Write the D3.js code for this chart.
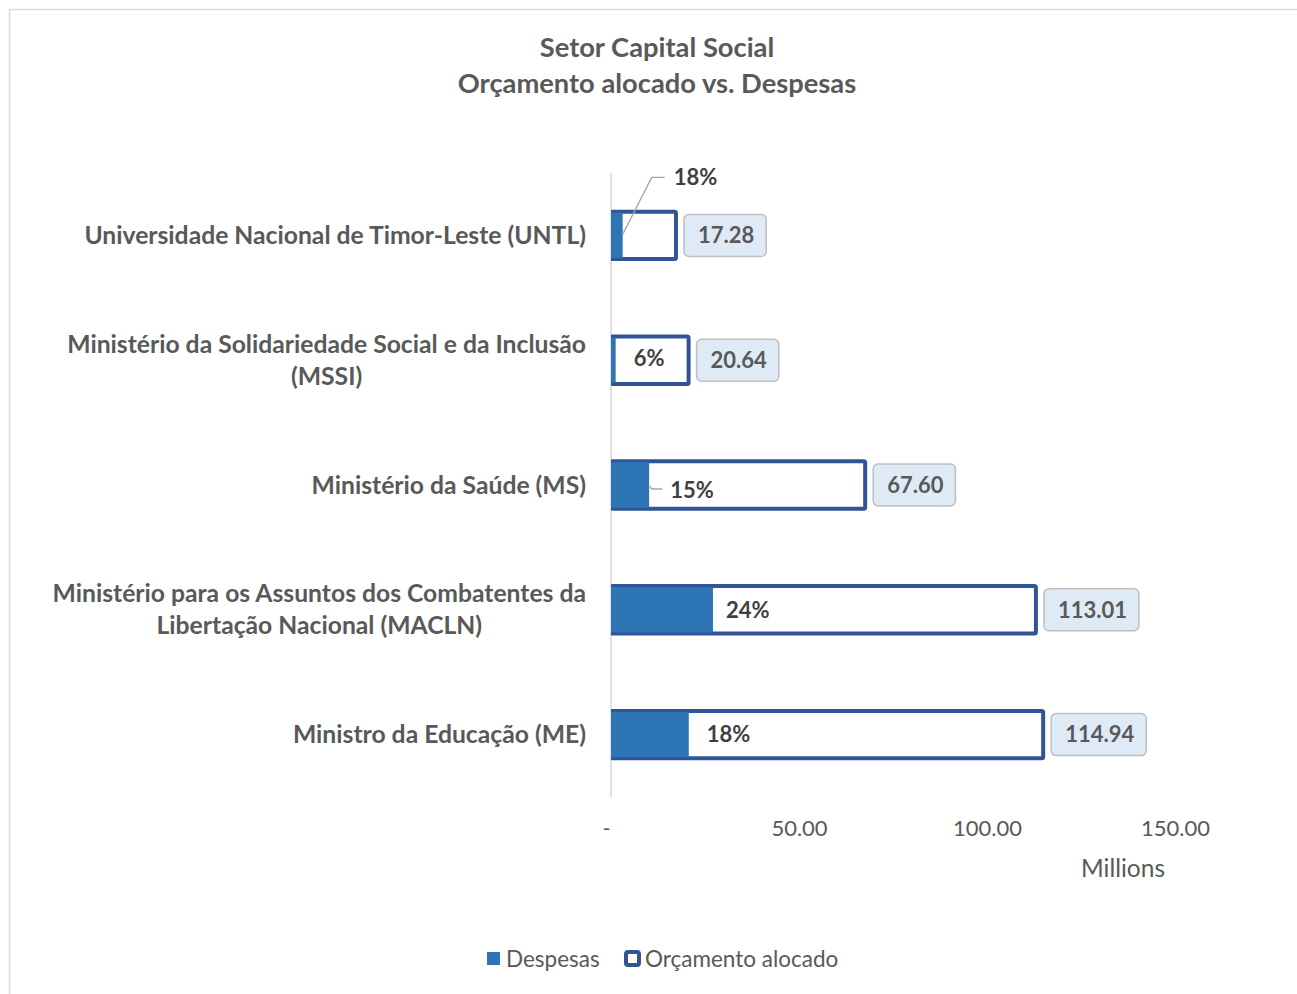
<!DOCTYPE html>
<html>
<head>
<meta charset="utf-8">
<script src="https://cdn.jsdelivr.net/npm/d3@7"></script>
<style>
  body { margin: 0; background: #fff; }
  svg { display: block; font-family: Lato, "Liberation Sans", sans-serif; }
</style>
</head>
<body>
<div id="chart"></div>
<script>
// data
const categories = [
  "Universidade Nacional de Timor-Leste (UNTL)",
  "Ministério da Solidariedade Social e da Inclusão\n(MSSI)",
  "Ministério da Saúde (MS)",
  "Ministério para os Assuntos dos Combatentes da\nLibertação Nacional (MACLN)",
  "Ministro da Educação (ME)"
];
const budget = [17.28, 20.64, 67.60, 113.01, 114.94];   // Orçamento alocado
const spent = [3.11, 1.24, 10.14, 27.12, 20.69];        // Despesas
const pctLabels = ["18%", "6%", "15%", "24%", "18%"];
const xTicks = [0, 50, 100, 150];

const W = 1297, H = 994;
const textCol = "#595959", darkText = "#404040";
const blue = "#2E75B6", navy = "#2F5597";

const svg = d3.select("#chart").append("svg")
  .attr("width", W).attr("height", H);

// chart border (right/bottom run off the picture)
svg.append("rect")
  .attr("x", 9.5).attr("y", 9.5)
  .attr("width", W + 20).attr("height", H + 20)
  .attr("fill", "#fff").attr("stroke", "#d9d9d9").attr("stroke-width", 1.5);

// title
const title = svg.append("text")
  .attr("text-anchor", "middle")
  .attr("fill", textCol).attr("font-weight", "bold").attr("font-size", 27.3);
title.append("tspan").attr("x", 657).attr("y", 57).text("Setor Capital Social");
title.append("tspan").attr("x", 657).attr("y", 93).text("Orçamento alocado vs. Despesas");

const x = d3.scaleLinear().domain([0, 150]).range([611, 1175]);
const y = d3.scaleBand().domain(d3.range(categories.length))
  .range([173, 797]).paddingInner(0.62).paddingOuter(0.31);
const bw = y.bandwidth();

// x axis labels
const axis = d3.axisBottom(x).tickValues(xTicks).tickSize(0).tickPadding(0)
  .tickFormat(d => d === 0 ? "-" : d.toFixed(2));
const gx = svg.append("g").attr("transform", "translate(0,820)").call(axis);
gx.select(".domain").remove();
gx.selectAll("text").attr("font-size", 22).attr("fill", textCol)
  .attr("font-family", "Lato, sans-serif");
gx.select(".tick text").attr("dx", -5);

svg.append("text")
  .attr("x", 1123).attr("y", 877).attr("text-anchor", "middle")
  .attr("font-size", 24.5).attr("fill", textCol).text("Millions");

// vertical axis line
svg.append("line")
  .attr("x1", x(0)).attr("x2", x(0)).attr("y1", 173).attr("y2", 797)
  .attr("stroke", "#d9d9d9").attr("stroke-width", 1.5);

// category labels (lines centred on each other, block right-aligned)
categories.forEach((c, i) => {
  const lines = c.split("\n");
  const t = svg.append("text").attr("font-size", 24.7).attr("font-weight", "bold")
    .attr("fill", textCol).attr("text-anchor", "middle");
  const cy = y(i) + bw / 2;
  const lh = 32;
  lines.forEach((l, j) => {
    t.append("tspan").attr("x", 0)
      .attr("y", cy + (j - (lines.length - 1) / 2) * lh)
      .attr("dy", "0.35em").text(l);
  });
  const maxW = d3.max(t.selectAll("tspan").nodes(), n => n.getComputedTextLength());
  t.selectAll("tspan").attr("x", 586 - maxW / 2);
});

// clip so the outline's left stroke sits behind the axis
svg.append("clipPath").attr("id", "plotclip")
  .append("rect").attr("x", x(0)).attr("y", 0).attr("width", W).attr("height", H);

const bars = svg.append("g").attr("clip-path", "url(#plotclip)");

// Orçamento alocado (outline)
bars.selectAll("rect.budget").data(budget).enter().append("rect")
  .attr("class", "budget")
  .attr("x", x(0)).attr("y", (d, i) => y(i))
  .attr("width", d => x(d) - x(0)).attr("height", bw)
  .attr("rx", 1.5)
  .attr("fill", "#fff").attr("stroke", navy).attr("stroke-width", 4);

// Despesas (fill)
bars.selectAll("rect.spent").data(spent).enter().append("rect")
  .attr("class", "spent")
  .attr("x", x(0)).attr("y", (d, i) => y(i) + 1)
  .attr("width", d => x(d) - x(0)).attr("height", bw - 2)
  .attr("fill", blue);

// budget value boxes
budget.forEach((v, i) => {
  const cy = y(i) + bw / 2;
  const g = svg.append("g");
  const t = g.append("text")
    .attr("y", cy).attr("dy", "0.35em")
    .attr("font-size", 22).attr("font-weight", "bold")
    .attr("fill", textCol).attr("text-anchor", "middle")
    .text(v.toFixed(2));
  const tw = t.node().getComputedTextLength();
  const bx = x(v) + 8, boxW = tw + 26;
  g.insert("rect", "text")
    .attr("x", bx).attr("y", cy - 21).attr("width", boxW).attr("height", 42)
    .attr("rx", 5).attr("fill", "#DEEBF7").attr("stroke", "#BFBFBF").attr("stroke-width", 1.5);
  t.attr("x", bx + boxW / 2 + 1);
});

// percentage labels (positions as placed in the original)
const pctLayout = [
  { dx: 51, dy: -58, leader: "diag" },
  { dx: 18, dy: -2 },
  { dx: 21, dy: 5, leader: "short" },
  { dx: 13, dy: 0 },
  { dx: 18, dy: 0 }
];
pctLabels.forEach((p, i) => {
  const cy = y(i) + bw / 2;
  const sx = x(spent[i]);
  const L = pctLayout[i];
  const tx = sx + L.dx, ty = cy + L.dy;
  if (L.leader === "diag") {
    svg.append("path")
      .attr("d", `M${sx},${cy - 1}L${sx + 29},${ty}L${tx - 9},${ty}`)
      .attr("fill", "none").attr("stroke", "#a6a6a6").attr("stroke-width", 1.3);
  } else if (L.leader === "short") {
    svg.append("path")
      .attr("d", `M${sx + 1},${ty - 4}Q${sx + 1},${ty - 1} ${sx + 4},${ty - 1}L${tx - 8},${ty - 1}`)
      .attr("fill", "none").attr("stroke", "#a6a6a6").attr("stroke-width", 1.3);
  }
  svg.append("text")
    .attr("x", tx).attr("y", ty).attr("dy", "0.35em")
    .attr("font-size", 22).attr("font-weight", "bold").attr("fill", darkText)
    .text(p);
});

// legend
const lg = svg.append("g").attr("font-size", 22.5).attr("fill", textCol);
lg.append("rect").attr("x", 487).attr("y", 952).attr("width", 13).attr("height", 13).attr("fill", blue);
lg.append("text").attr("x", 506).attr("y", 959).attr("dy", "0.35em").attr("fill", textCol).text("Despesas");
lg.append("rect").attr("x", 626).attr("y", 952).attr("width", 13).attr("height", 13).attr("rx", 2)
  .attr("fill", "#fff").attr("stroke", navy).attr("stroke-width", 4);
lg.append("text").attr("x", 645).attr("y", 959).attr("dy", "0.35em").attr("fill", textCol).text("Orçamento alocado");
</script>
</body>
</html>
